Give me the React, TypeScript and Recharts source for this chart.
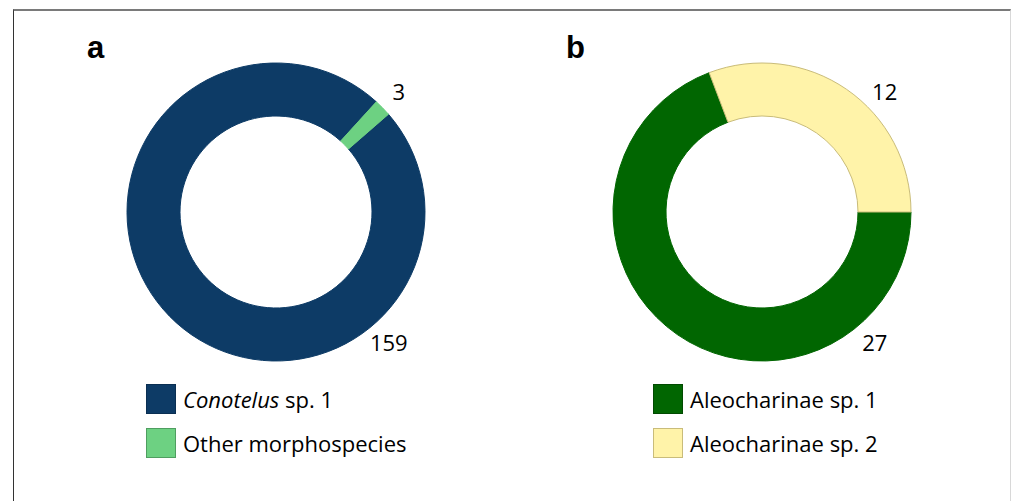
import { Cell, Pie, PieChart } from "recharts";

// panel a
const beetlesA = ["Conotelus sp. 1", "Other morphospecies"];
const countsA = [159, 3];
// panel b
const beetlesB = ["Aleocharinae sp. 1", "Aleocharinae sp. 2"];
const countsB = [27, 12];

const colorsA = ["#0d3b66", "#6dd182"];
const colorsB = ["#016601", "#fff3a9"];
const borderA = ["#0a2f52", "#4f9e60"];
const borderB = ["#014a01", "#c9bc7a"];

const italicGenera = ["Conotelus"];

// label directions, degrees clockwise from 12 o'clock
const labelAngles = [139, 45.5];
const RAD = Math.PI / 180;

const FONT = "'Open Sans', 'Noto Sans', sans-serif";

function toRows(names: string[], values: number[]) {
  return names.map((name, i) => ({ name, value: values[i] }));
}

function renderLabel(props: any) {
  const { cx, cy, outerRadius, index, value } = props;
  const phi = labelAngles[index] * RAD;
  const r = outerRadius + 23;
  return (
    <text
      x={cx + r * Math.sin(phi)}
      y={cy - r * Math.cos(phi)}
      textAnchor="middle"
      dominantBaseline="central"
      fill="#000"
      fontSize={22}
      fontFamily={FONT}
    >
      {value}
    </text>
  );
}

function LegendName({ name }: { name: string }) {
  const [first, ...rest] = name.split(" ");
  if (italicGenera.includes(first)) {
    return (
      <span>
        <i>{first}</i> {rest.join(" ")}
      </span>
    );
  }
  return <span>{name}</span>;
}

interface PanelProps {
  letter: string;
  names: string[];
  values: number[];
  fills: string[];
  borders: string[];
  startAngle: number;
  left: number;
}

function Panel({ letter, names, values, fills, borders, startAngle, left }: PanelProps) {
  const data = toRows(names, values);
  return (
    <div style={{ position: "absolute", left, top: 0, width: 486, height: 501 }}>
      <PieChart width={486} height={501} margin={{ top: 0, right: 0, bottom: 0, left: 0 }}>
        <Pie
          data={data}
          dataKey="value"
          nameKey="name"
          cx={276}
          cy={212}
          innerRadius={96}
          outerRadius={149}
          startAngle={startAngle}
          endAngle={startAngle - 360}
          label={renderLabel}
          labelLine={false}
          isAnimationActive={false}
        >
          {data.map((row, i) => (
            <Cell
              key={row.name}
              fill={fills[i]}
              stroke={i === 1 && letter === "b" ? borders[i] : fills[i]}
              strokeWidth={1}
            />
          ))}
        </Pie>
      </PieChart>
      <div
        style={{
          position: "absolute",
          left: letter === "a" ? 87 : 80,
          top: 28,
          fontFamily: "'Liberation Sans', Arial, sans-serif",
          fontWeight: 700,
          fontSize: 31,
          lineHeight: "40px",
          color: "#000",
        }}
      >
        {letter}
      </div>
      <div style={{ position: "absolute", left: letter === "a" ? 146 : 167, top: 384 }}>
        {names.map((name, i) => (
          <div
            key={name}
            style={{ display: "flex", alignItems: "center", height: 30, marginBottom: 14 }}
          >
            <div
              style={{
                width: 28,
                height: 28,
                background: fills[i],
                border: `1px solid ${borders[i]}`,
                marginRight: 7,
              }}
            />
            <div
              style={{
                fontFamily: FONT,
                fontSize: 22,
                color: "#000",
                whiteSpace: "nowrap",
                lineHeight: "30px",
              }}
            >
              <LegendName name={name} />
            </div>
          </div>
        ))}
      </div>
    </div>
  );
}

export default function App() {
  return (
    <div
      style={{
        position: "absolute",
        left: 0,
        top: 0,
        width: 1012,
        height: 501,
        background: "#fff",
        overflow: "hidden",
      }}
    >
      <div
        style={{
          position: "absolute",
          left: 13,
          top: 9,
          width: 996,
          height: 520,
          borderTop: "2px solid #7a7a7a",
          borderLeft: "1px solid #333",
          borderRight: "1px solid #d8d8d8",
        }}
      />
      <Panel
        letter="a"
        names={beetlesA}
        values={countsA}
        fills={colorsA}
        borders={borderA}
        startAngle={41}
        left={0}
      />
      <Panel
        letter="b"
        names={beetlesB}
        values={countsB}
        fills={colorsB}
        borders={borderB}
        startAngle={0}
        left={486}
      />
    </div>
  );
}
